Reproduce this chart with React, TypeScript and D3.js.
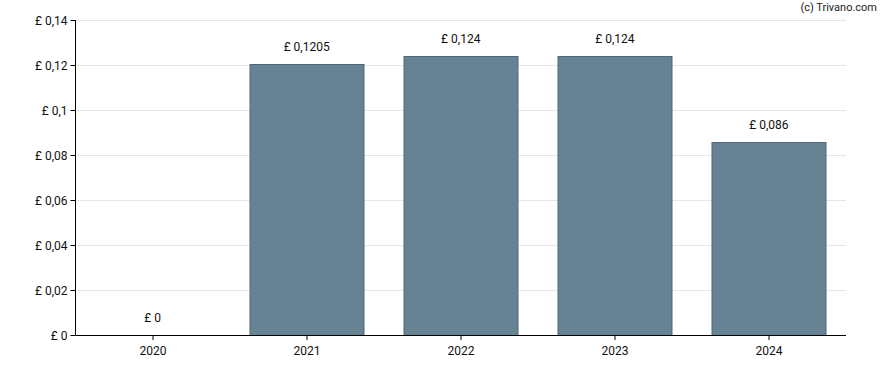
import React from "react";
import * as d3 from "d3";

const years = ["2020", "2021", "2022", "2023", "2024"];
const dividends = [0, 0.1205, 0.124, 0.124, 0.086];
const yTicks = [0, 0.02, 0.04, 0.06, 0.08, 0.1, 0.12, 0.14];

const W = 888;
const H = 370;
const margin = { top: 20, right: 42, bottom: 35, left: 75.5 };

const fmt = (v: number) => "£ " + String(v).replace(".", ",");

const App = () => {
  const innerW = W - margin.left - margin.right;
  const innerH = H - margin.top - margin.bottom;

  const x = d3.scaleBand().domain(years).range([0, innerW]).paddingInner(0.26).paddingOuter(0.13);
  const y = d3.scaleLinear().domain([0, 0.14]).range([innerH, 0]);

  const font = "Roboto, 'DejaVu Sans', sans-serif";

  return (
    <div style={{ position: "absolute", left: 0, top: 0 }}>
      <svg width={W} height={H} style={{ display: "block", fontFamily: font }}>
        <rect width={W} height={H} fill="#fff" />
        <text x={877} y={11} textAnchor="end" fontSize={11} fill="#222">
          (c) Trivano.com
        </text>
        <g transform={`translate(${margin.left},${margin.top})`}>
          {/* grid */}
          {yTicks.map((t) => (
            <line key={"g" + t} x1={0} x2={innerW} y1={Math.round(y(t)) + 0.5} y2={Math.round(y(t)) + 0.5} stroke="#e6e6e6" />
          ))}
          {/* bars */}
          {years.map((yr, i) => {
            const v = dividends[i];
            const top = y(v);
            return (
              <g key={yr}>
                {v > 0 && (
                  <rect
                    x={Math.round(x(yr)!) + 0.5}
                    y={Math.round(top) + 0.5}
                    width={Math.round(x.bandwidth())}
                    height={innerH - Math.round(top)}
                    fill="#668293"
                    stroke="#4d687c"
                    strokeWidth={1}
                  />
                )}
                <text
                  x={x(yr)! + x.bandwidth() / 2}
                  y={top - 13}
                  textAnchor="middle"
                  fontSize={12}
                  fill="#111"
                >
                  {fmt(v)}
                </text>
              </g>
            );
          })}
          {/* y axis */}
          <line x1={0} x2={0} y1={0} y2={innerH} stroke="#000" />
          {yTicks.map((t) => (
            <g key={"t" + t} transform={`translate(0,${Math.round(y(t)) + 0.5})`}>
              <line x1={-5} x2={0} stroke="#000" />
              <text x={-8} dy="0.35em" textAnchor="end" fontSize={12} fill="#111">
                {fmt(t)}
              </text>
            </g>
          ))}
          {/* x axis */}
          <line x1={0} x2={innerW} y1={innerH + 0.5} y2={innerH + 0.5} stroke="#000" />
          {years.map((yr) => {
            const cx = Math.round(x(yr)! + x.bandwidth() / 2) + 0.5;
            return (
              <g key={"x" + yr} transform={`translate(${cx},${innerH})`}>
                <line y1={0} y2={5} stroke="#000" />
                <text y={20} textAnchor="middle" fontSize={12} fill="#111">
                  {yr}
                </text>
              </g>
            );
          })}
        </g>
      </svg>
    </div>
  );
};

export default App;
